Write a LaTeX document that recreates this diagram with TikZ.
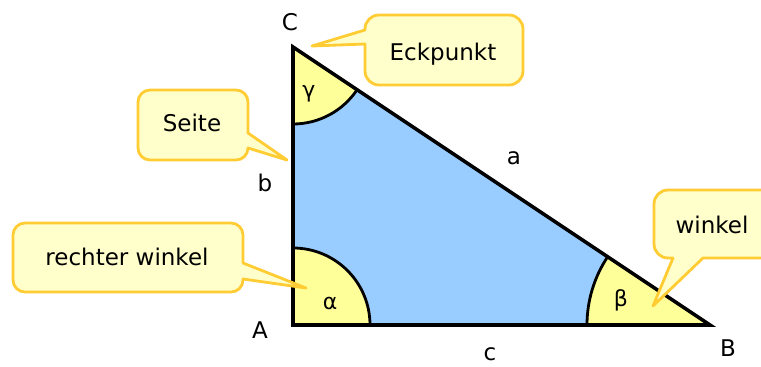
\documentclass[tikz,border=0pt]{standalone}
\usepackage{fontspec}
\setmainfont{DejaVu Sans}
\definecolor{triblue}{RGB}{153,204,255}
\definecolor{angyellow}{RGB}{255,255,153}
\definecolor{callfill}{RGB}{255,255,204}
\definecolor{callborder}{RGB}{255,204,51}
\begin{document}
\begin{tikzpicture}[x=1pt,y=-1pt,
  tri/.style={line width=3.6pt, line join=miter},
  angarc/.style={line width=2.8pt},
  callout/.style={fill=callfill, draw=callborder, line width=2.8pt, line join=round},
  lbl/.style={font=\fontsize{23}{27}\selectfont, inner sep=0pt},
  greek/.style={font=\fontsize{22}{26}\selectfont, inner sep=0pt}]
\useasboundingbox (0,0) rectangle (761,367);
\coordinate (A) at (293,325);
\coordinate (B) at (710,325);
\coordinate (C) at (293,47);
% triangle fill
\fill[triblue] (A) -- (B) -- (C) -- cycle;
% angle sectors
\fill[angyellow] (A) -- ++(77,0) arc[start angle=0,end angle=90,radius=77pt] -- cycle;
\draw[angarc] (A) ++(77,0) arc[start angle=0,end angle=90,radius=77pt];
\fill[angyellow] (C) -- ++(0,77) arc[start angle=-90,end angle=-33.69,radius=77pt] -- cycle;
\draw[angarc] (C) ++(0,77) arc[start angle=-90,end angle=-33.69,radius=77pt];
\fill[angyellow] (B) -- ++(-123,0) arc[start angle=180,end angle=146.31,radius=123pt] -- cycle;
\draw[angarc] (B) ++(-123,0) arc[start angle=180,end angle=146.31,radius=123pt];
% triangle outline
\draw[tri] (A) -- (B) -- (C) -- cycle;
% callouts (tails pointing at named tips)
\coordinate (tipE) at (312,46);
\coordinate (tipS) at (287,160);
\coordinate (tipR) at (306,288);
\coordinate (tipW) at (653,306);
\draw[callout] (379,15) -- (509,15) arc[start angle=90,end angle=0,radius=14pt]
  -- (523,71) arc[start angle=0,end angle=-90,radius=14pt]
  -- (379,85) arc[start angle=-90,end angle=-180,radius=14pt]
  -- (365,44) -- (tipE) -- (365,30) -- (365,29) arc[start angle=180,end angle=90,radius=14pt] -- cycle;
\draw[callout] (150,90) -- (236,90) arc[start angle=90,end angle=0,radius=12pt]
  -- (248,133) -- (tipS) -- (248,148) arc[start angle=0,end angle=-90,radius=12pt]
  -- (150,160) arc[start angle=-90,end angle=-180,radius=12pt]
  -- (138,102) arc[start angle=180,end angle=90,radius=12pt] -- cycle;
\draw[callout] (25,223) -- (231,223) arc[start angle=90,end angle=0,radius=12pt]
  -- (243,263) -- (tipR) -- (243,279) -- (243,280) arc[start angle=0,end angle=-90,radius=12pt]
  -- (25,292) arc[start angle=-90,end angle=-180,radius=12pt]
  -- (13,235) arc[start angle=180,end angle=90,radius=12pt] -- cycle;
\draw[callout] (668,190) -- (766,190) arc[start angle=90,end angle=0,radius=14pt]
  -- (780,244) arc[start angle=0,end angle=-90,radius=14pt]
  -- (703,258) -- (tipW) -- (673,258) -- (668,258) arc[start angle=-90,end angle=-180,radius=14pt]
  -- (654,204) arc[start angle=180,end angle=90,radius=14pt] -- cycle;
% callout texts
\node[lbl] (tEck) at (443,54) {Eckpunkt};
\node[lbl] (tSeite) at (192,123) {Seite};
\node[lbl] (tRecht) at (127,257) {rechter winkel};
\node[lbl] (tWink) at (712,225) {winkel};
% vertex and side labels
\node[lbl] (lC) at (290,22) {C};
\node[lbl] (lA) at (260,330) {A};
\node[lbl] (lB) at (728,348) {B};
\node[lbl] (la) at (514,158) {a};
\node[lbl] (lb) at (265,183) {b};
\node[lbl] (lc) at (490,354) {c};
% angle labels
\node[greek] (gg) at (309,94) {γ};
\node[greek] (ga) at (330,303) {α};
\node[greek] (gb) at (621,300) {β};
\end{tikzpicture}
\end{document}
